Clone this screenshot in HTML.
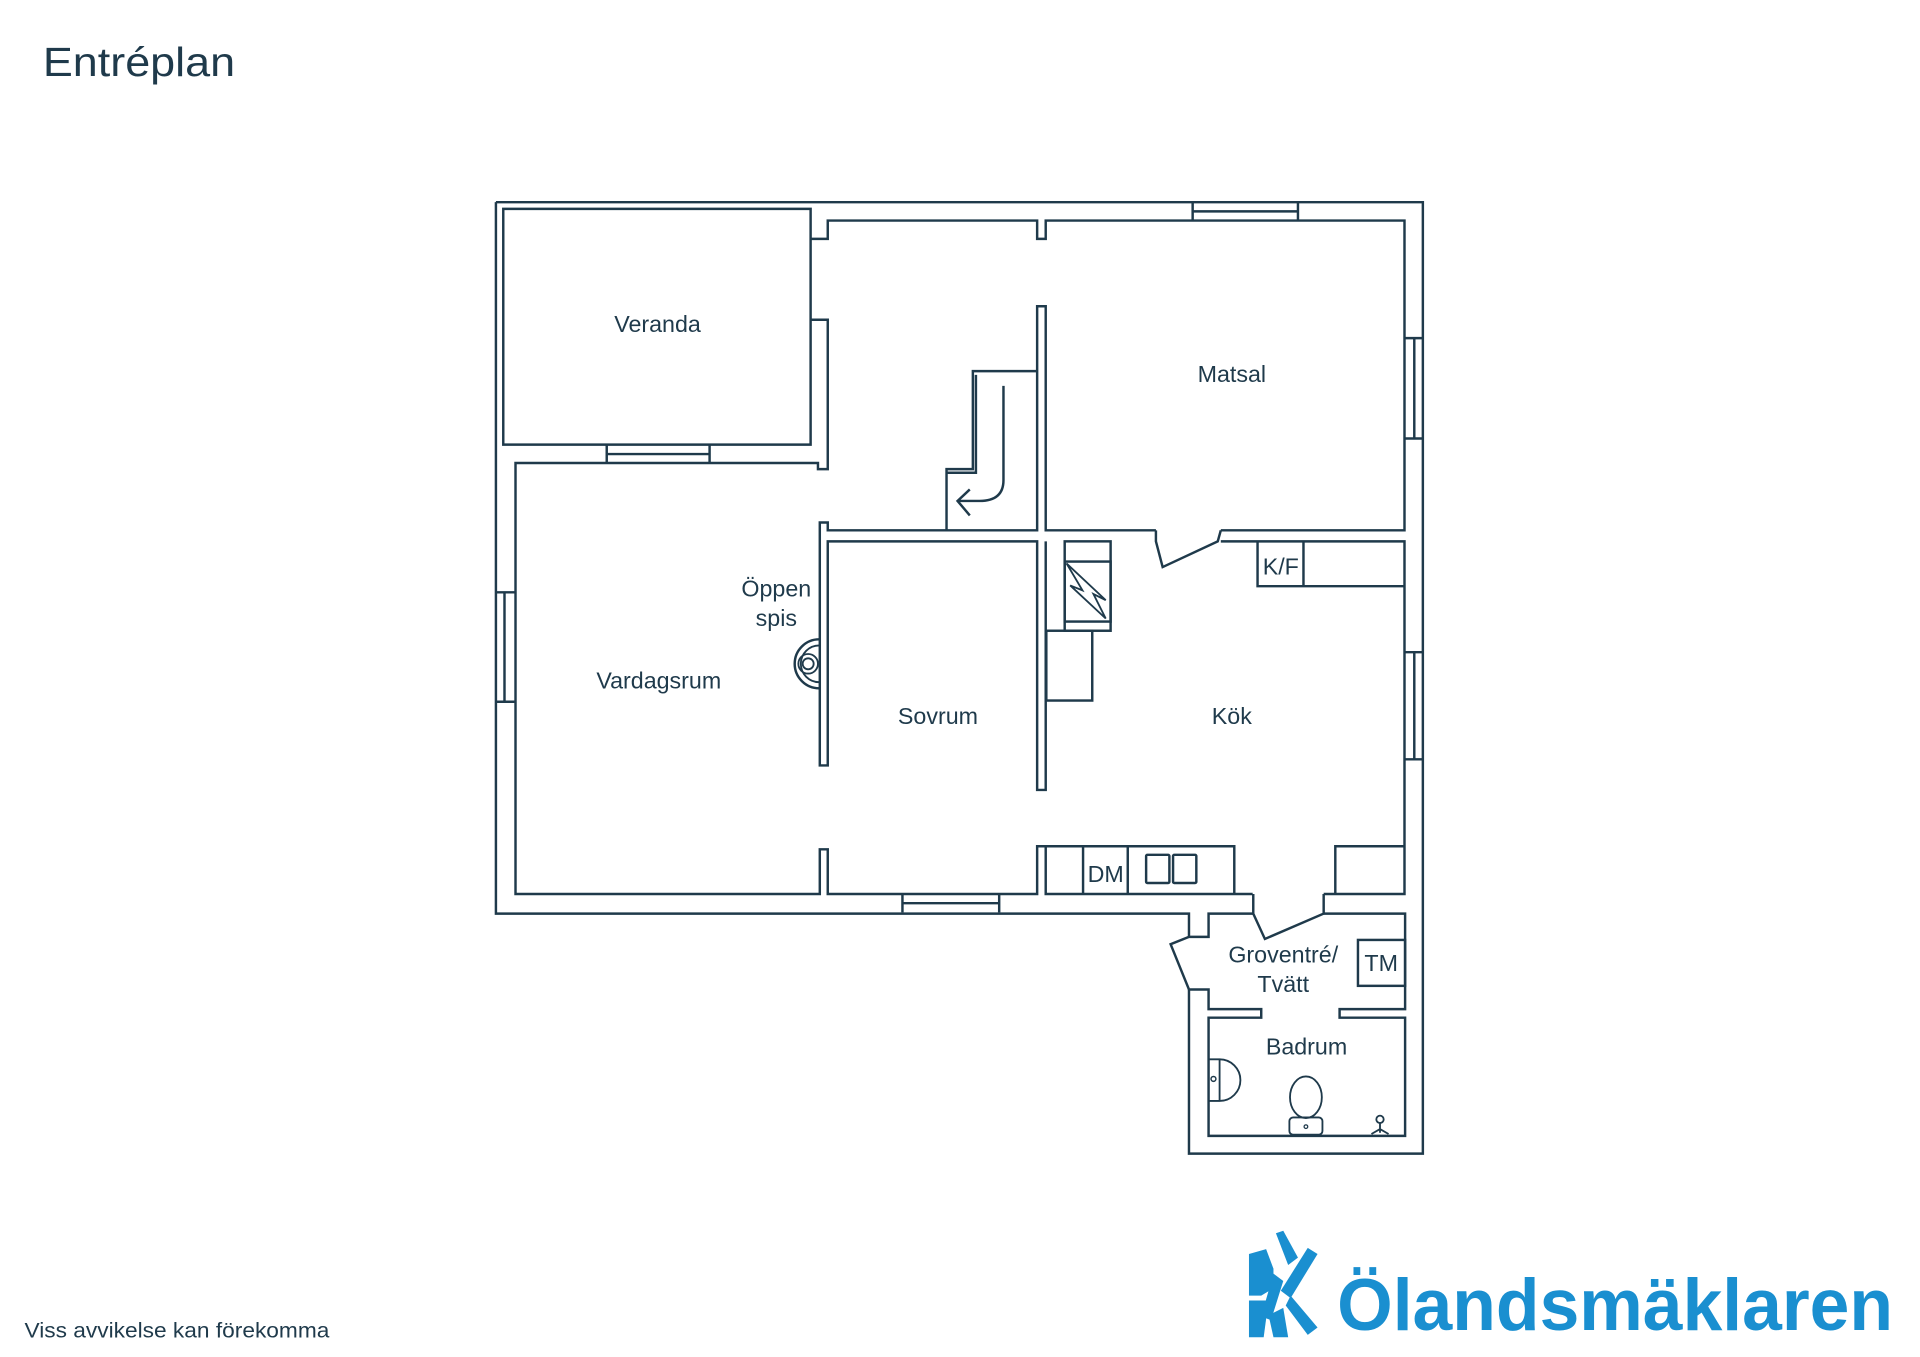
<!DOCTYPE html>
<html><head><meta charset="utf-8"><style>
html,body{margin:0;padding:0;background:#fff;}
svg{display:block;}
text{font-family:"Liberation Sans",sans-serif;fill:#1f3a4b;}
</style></head><body>
<svg width="1920" height="1357" viewBox="0 0 1568 1108" xmlns="http://www.w3.org/2000/svg">
<g fill="none" stroke="#1f3a4b" stroke-width="2" stroke-linejoin="miter">
<path d="M405,165 H1162 V942 H971 V808 M971,765 V746 H405 V165"/>
<path d="M411,363 V170.5 H662 V363 Z"/>
<path d="M662,195 H676 V180 H847 V195 H854 V180 H1147 V433 H997 M944,433 H854 V250 H847 V433 H676 V426.6 H669.5 V625 H676 V442 H847 V645 H854 V442"/>
<path d="M662,261 H676 V383 H668 V378 H421 V730 H669.5 V693.5 H676 V730 H847 V691 H854 V730 H1023 M1081,730 H1147 V442 H1064 M997,442 H1064"/>
<path d="M495.5,363 V378 M579.5,363 V378 M495.5,370.7 H579.5"/>
<path d="M405,483.6 H421 M405,573 H421 M412,483.6 V573"/>
<path d="M737,730 V745 M816,730 V745 M737,737.5 H816"/>
<path d="M974,165 V180 M1060,165 V180 M974,172.5 H1060"/>
<path d="M1147,276 H1162 M1147,358 H1162 M1155,276 V358"/>
<path d="M1147,532.5 H1162 M1147,620 H1162 M1155,532.5 V620"/>
<path d="M847,303 H794.5 V383 H773 V433"/>
<path d="M797,306 V386 H773"/>
<path d="M819.5,315 V392 Q819.5,409 800,409 H782 M792,399.6 L782,409 L792,420.8"/>
<path d="M944,433 V442 L949.5,463 L994.5,442 L997,433"/>
<rect x="869.5" y="442" width="37.5" height="73"/>
<rect x="869.5" y="458.5" width="37.5" height="49"/>
<path d="M871,460 L903,490 L893,485 L903,505 L874,478 L884,482 Z" stroke-width="1.5"/>
<rect x="854.5" y="515" width="37.5" height="57"/>
<path d="M1027,442 V478.6 H1147 M1064.5,442 V478.6"/>
<path d="M854,691 H1008 V730 M884.5,691 V730 M921,691 V730"/>
<rect x="936" y="698" width="19" height="23" rx="1"/>
<rect x="958" y="698" width="19" height="23" rx="1"/>
<path d="M1090.5,730 V691 H1147"/>
<path d="M1023.5,730 V746 L1033,766.7 L1081,746 V730"/>
<path d="M1023.5,746 H987 V765 H971 L956,771 L971,808 H987 V824 H1030 V831 H987 V927.5 H1147.5 V831 H1094 V824 H1147.5 V746 H1081"/>
<rect x="1109" y="767.5" width="38.5" height="37.5"/>
<path d="M669,522 A20,20 0 1,0 669,562" stroke-width="2"/>
<path d="M669,527 A15,15 0 1,0 669,557" stroke-width="1.5"/>
<circle cx="660" cy="542" r="8" stroke-width="1.5"/>
<circle cx="660" cy="542" r="4.5" stroke-width="1.5"/>
<path d="M987,865 H996 V899 H987 M996,865 A17,17 0 0,1 996,899" stroke-width="1.5"/>
<circle cx="991" cy="881" r="2" stroke-width="1.2"/>
<ellipse cx="1066.5" cy="896" rx="13" ry="17" stroke-width="1.5"/>
<rect x="1053" y="912.5" width="27" height="14" rx="3" stroke-width="1.5"/>
<circle cx="1066.5" cy="920" r="1.5" stroke-width="1"/>
<path d="M1127,917 V925 M1120,926 L1127,922 L1134,926" stroke-width="1.5"/>
<circle cx="1127" cy="914" r="3" stroke-width="1.5"/>
</g>
<g font-size="19" text-anchor="middle">
<text x="537" y="271">Veranda</text>
<text x="1006" y="312">Matsal</text>
<text x="634" y="487">Öppen</text>
<text x="634" y="511">spis</text>
<text x="538" y="562">Vardagsrum</text>
<text x="766" y="591">Sovrum</text>
<text x="1006" y="591">Kök</text>
<text x="1046" y="469">K/F</text>
<text x="903" y="720">DM</text>
<text x="1048" y="786">Groventré/</text>
<text x="1048" y="810">Tvätt</text>
<text x="1128" y="793">TM</text>
<text x="1067" y="861">Badrum</text>
</g>
<text x="35" y="62" font-size="33" textLength="157" lengthAdjust="spacingAndGlyphs">Entréplan</text>
<text x="20" y="1092" font-size="17.5" textLength="249" lengthAdjust="spacingAndGlyphs">Viss avvikelse kan förekomma</text>
<g fill="#1a8fd0">
<path d="M1042,1007 L1052,1033 L1060,1027 L1048,1005 Z"/>
<path d="M1068,1019 L1076,1024 L1054,1060 L1046,1054 Z"/>
<path d="M1040,1040 L1030,1075 L1038,1078 L1048,1046 Z"/>
<path d="M1020,1024 L1034,1020 L1040,1036 L1040,1052 L1030,1058 L1020,1058 Z"/>
<path d="M1054,1058 L1076,1084 L1068,1090 L1050,1066 Z"/>
<path d="M1020,1062 L1036,1062 L1032,1092 L1020,1092 Z"/>
<path d="M1036,1074 L1048,1068 L1052,1092 L1040,1092 Z"/>
</g>
<text x="1092" y="1086" font-size="60" font-weight="bold" textLength="454" lengthAdjust="spacingAndGlyphs" style="fill:#1a8fd0">Ölandsmäklaren</text>
</svg>
</body></html>
